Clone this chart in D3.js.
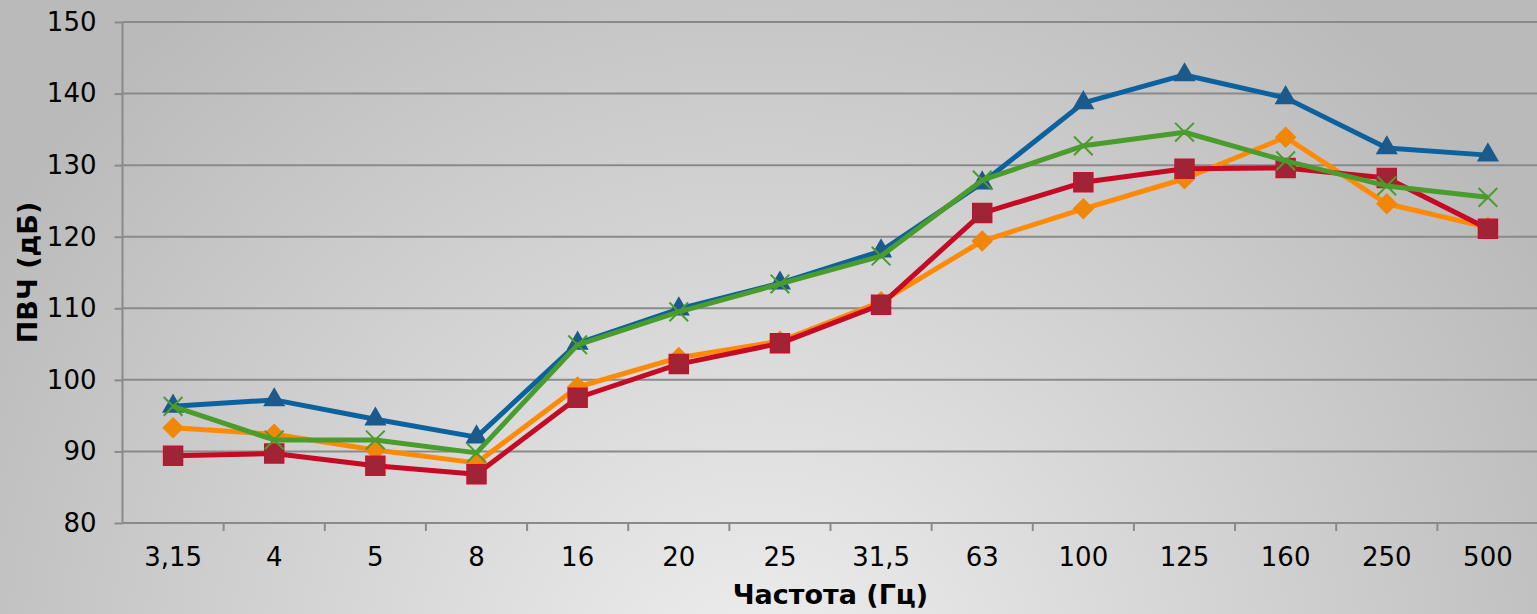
<!DOCTYPE html>
<html>
<head>
<meta charset="utf-8">
<script src="https://cdn.jsdelivr.net/npm/d3@7"></script>
<style>
	body { margin: 0; overflow: hidden; }
	svg { display: block; font-family: "DejaVu Sans", Verdana, sans-serif; }
</style>
</head>
<body>
<svg id="viz"></svg>
<script>
	// the data
	var categories = ["3,15", "4", "5", "8", "16", "20", "25", "31,5", "63", "100", "125", "160", "250", "500"];
	var blueValues   = [96.3, 97.2, 94.5, 92.0, 105.1, 109.9, 113.5, 118.0, 127.5, 138.7, 142.6, 139.4, 132.4, 131.4];
	var orangeValues = [93.3, 92.4, 90.2, 88.4, 99.0, 103.1, 105.4, 110.9, 119.4, 123.9, 128.1, 133.9, 124.6, 121.3];
	var redValues    = [89.4, 89.7, 88.0, 86.8, 97.5, 102.2, 105.1, 110.5, 123.3, 127.6, 129.5, 129.6, 128.2, 121.1];
	var greenValues  = [96.3, 91.6, 91.6, 89.8, 104.9, 109.5, 113.4, 117.3, 127.9, 132.7, 134.6, 130.6, 127.1, 125.5];
	var yTicks = [80, 90, 100, 110, 120, 130, 140, 150];

	var series = [
		{values: blueValues, line: "#0b629e", fill: "#1b5a8b", marker: "triangle"},
		{values: orangeValues, line: "#ff8a05", fill: "#f08709", marker: "diamond"},
		{values: redValues, line: "#c40a25", fill: "#a02436", marker: "square"},
		{values: greenValues, line: "#4a9c2d", fill: "#4a9c2d", marker: "cross"}
	];

	// set up the svg
	var w = 1537, h = 614;
	var plotLeft = 122.5, plotRight = 1538.5, plotTop = 22, plotBottom = 523;
	var font = "'DejaVu Sans', Verdana, sans-serif";
	var viz = d3.select("#viz").attr("width", w).attr("height", h);

	// background gradient
	var grad = viz.append("defs").append("radialGradient")
		.attr("id", "bg").attr("gradientUnits", "userSpaceOnUse")
		.attr("cx", 760).attr("cy", 700).attr("r", 900);
	grad.append("stop").attr("offset", "0%").attr("stop-color", "#efefef");
	grad.append("stop").attr("offset", "100%").attr("stop-color", "#bababa");
	viz.append("rect").attr("width", w).attr("height", h).attr("fill", "url(#bg)");

	var x = d3.scaleBand().domain(categories).range([plotLeft, plotRight]);
	var y = d3.scaleLinear().domain([80, 150]).range([plotBottom, plotTop]);

	// y axis with gridlines
	var yAxis = viz.append("g")
		.attr("transform", "translate(" + plotLeft + ",0)")
		.call(d3.axisLeft(y).tickValues(yTicks).tickSize(8).tickPadding(18));
	yAxis.select(".domain").remove();
	yAxis.attr("font-family", font);
	yAxis.selectAll("line").attr("stroke", "#8a8a8a").attr("stroke-width", 2);
	yAxis.selectAll("text").attr("font-size", 26).attr("fill", "#000");
	viz.append("g").selectAll("line.grid")
		.data(yTicks)
		.enter()
		.append("line")
		.attr("x1", plotLeft).attr("x2", w)
		.attr("y1", function(d) { return y(d); })
		.attr("y2", function(d) { return y(d); })
		.attr("stroke", "#8a8a8a").attr("stroke-width", 2);
	viz.append("line")
		.attr("x1", plotLeft).attr("x2", plotLeft).attr("y1", plotTop).attr("y2", plotBottom)
		.attr("stroke", "#8a8a8a").attr("stroke-width", 2);

	// x axis
	var xAxis = viz.append("g")
		.attr("transform", "translate(0," + plotBottom + ")")
		.call(d3.axisBottom(x).tickSize(0).tickPadding(25));
	xAxis.select(".domain").remove();
	xAxis.attr("font-family", font);
	xAxis.selectAll("text").attr("font-size", 26).attr("fill", "#000");
	viz.append("g").selectAll("line.xtick")
		.data(categories.slice(1))
		.enter()
		.append("line")
		.attr("x1", function(d) { return x(d); })
		.attr("x2", function(d) { return x(d); })
		.attr("y1", plotBottom).attr("y2", plotBottom + 8)
		.attr("stroke", "#8a8a8a").attr("stroke-width", 2);

	// axis titles
	viz.append("text")
		.text("Частота (Гц)")
		.attr("x", (plotLeft + plotRight) / 2).attr("y", 604)
		.attr("text-anchor", "middle").attr("font-size", 27).attr("font-weight", "bold");
	viz.append("text")
		.text("ПВЧ (дБ)")
		.attr("transform", "translate(37," + ((plotTop + plotBottom) / 2) + ") rotate(-90)")
		.attr("text-anchor", "middle").attr("font-size", 27).attr("font-weight", "bold");

	// the lines and markers
	var line = d3.line()
		.x(function(d, i) { return x(categories[i]) + x.bandwidth() / 2; })
		.y(function(d) { return y(d); });

	var symbols = {
		triangle: d3.symbol().type(d3.symbolTriangle).size(165),
		diamond: d3.symbol().type(d3.symbolSquare).size(190),
		square: d3.symbol().type(d3.symbolSquare).size(360),
		cross: d3.symbol().type(d3.symbolTimes).size(230)
	};

	series.forEach(function(s) {
		var g = viz.append("g");
		g.append("path")
			.attr("d", line(s.values))
			.attr("fill", "none")
			.attr("stroke", s.line)
			.attr("stroke-width", 5)
			.attr("stroke-linejoin", "round");
		g.selectAll("path.mark")
			.data(s.values)
			.enter()
			.append("path")
			.attr("class", "mark")
			.attr("d", symbols[s.marker])
			.attr("transform", function(d, i) {
				var t = "translate(" + (x(categories[i]) + x.bandwidth() / 2) + "," + y(d) + ")";
				return s.marker == "diamond" ? t + " rotate(45)" : t;
			})
			.attr("fill", s.marker == "cross" ? "none" : s.fill)
			.attr("stroke", s.marker == "cross" ? s.fill : (s.marker == "square" ? "#c8102e" : s.fill))
			.attr("stroke-width", s.marker == "cross" ? 2 : 1.5);
	});
</script>
</body>
</html>
